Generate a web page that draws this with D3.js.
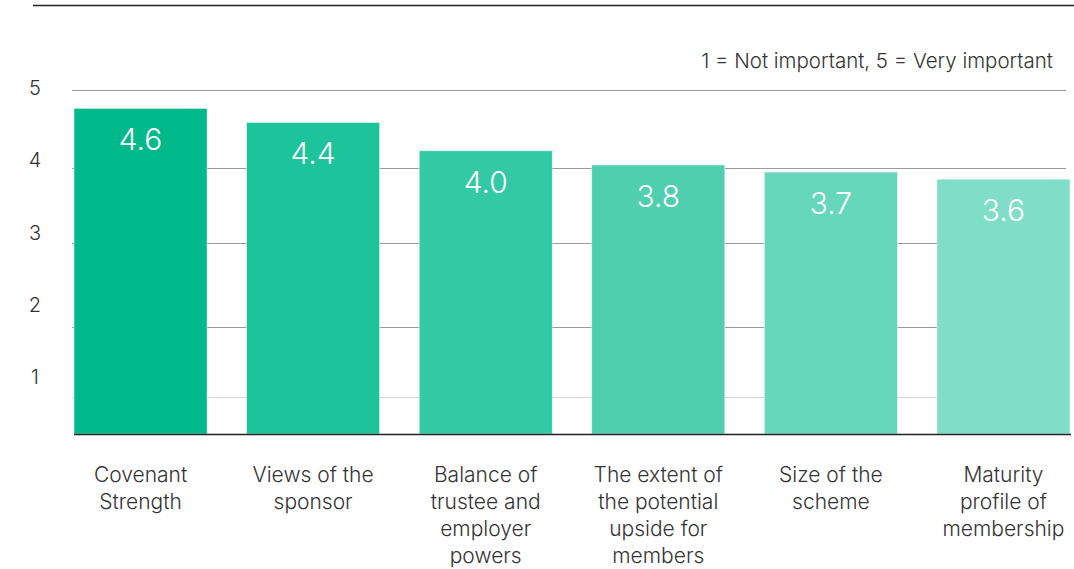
<!DOCTYPE html>
<html>
<head>
<meta charset="utf-8">
<script src="https://cdn.jsdelivr.net/npm/d3@7"></script>
<style>
  body { margin: 0; background: #fff; }
  text { font-family: Inter, "Open Sans", sans-serif; font-weight: 300; }
</style>
</head>
<body>
<script>
var categories = [
    ['Covenant', 'Strength'],
    ['Views of the', 'sponsor'],
    ['Balance of', 'trustee and', 'employer', 'powers'],
    ['The extent of', 'the potential', 'upside for', 'members'],
    ['Size of the', 'scheme'],
    ['Maturity', 'profile of', 'membership']
];
var values = [4.6, 4.4, 4.0, 3.8, 3.7, 3.6];
var colors = ['#00b98b', '#1cc39b', '#34c9a5', '#4fcfaf', '#66d7bb', '#80dec8'];
var yTicks = [1, 2, 3, 4, 5];
var note = '1 = Not important, 5 = Very important';

var width = 1074, height = 569;

var svg = d3.select('body').append('svg')
    .attr('width', width)
    .attr('height', height);

var x = d3.scaleBand()
    .domain(d3.range(values.length))
    .range([74, 1070])
    .paddingInner(0.229)
    .paddingOuter(0);

// bars
var y = d3.scaleLinear().domain([0, 5]).range([434, 80]);
// gridlines and tick labels sit off the bar scale in the original
var yGrid = d3.scaleLinear().domain([1, 2, 3, 4, 5]).range([397, 327, 243, 168, 90]);
var yLabel = d3.scaleLinear().domain([1, 5]).range([377, 88]);

// top rule
svg.append('line')
    .attr('x1', 33).attr('x2', width)
    .attr('y1', 5.5).attr('y2', 5.5)
    .attr('stroke', '#222')
    .attr('stroke-width', 1.5);

svg.append('text')
    .attr('x', 1053)
    .attr('y', 60)
    .attr('text-anchor', 'end')
    .attr('dominant-baseline', 'central')
    .attr('font-size', 20.5)
    .attr('fill', '#333')
    .text(note);

svg.selectAll('line.grid')
    .data(yTicks)
    .enter().append('line')
    .attr('class', 'grid')
    .attr('x1', 72).attr('x2', 1066)
    .attr('y1', function(d) { return Math.round(yGrid(d)) + 0.5; })
    .attr('y2', function(d) { return Math.round(yGrid(d)) + 0.5; })
    .attr('stroke', function(d) { return d === 1 ? '#d4d4d4' : '#9a9a9a'; })
    .attr('stroke-width', 1);

svg.selectAll('text.ytick')
    .data(yTicks)
    .enter().append('text')
    .attr('class', 'ytick')
    .attr('x', 35)
    .attr('y', function(d) { return yLabel(d); })
    .attr('text-anchor', 'middle')
    .attr('dominant-baseline', 'central')
    .attr('font-size', 20)
    .attr('fill', '#333')
    .text(function(d) { return d; });

svg.selectAll('rect.bar')
    .data(values)
    .enter().append('rect')
    .attr('class', 'bar')
    .attr('x', function(d, i) { return x(i); })
    .attr('y', function(d) { return y(d); })
    .attr('width', x.bandwidth())
    .attr('height', function(d) { return y(0) - y(d); })
    .attr('fill', function(d, i) { return colors[i]; })
    .attr('stroke', '#e6f7f2')
    .attr('stroke-width', 0.6);

svg.selectAll('text.value')
    .data(values)
    .enter().append('text')
    .attr('class', 'value')
    .attr('x', function(d, i) { return x(i) + x.bandwidth() / 2; })
    .attr('y', function(d) { return y(d) + 31; })
    .attr('text-anchor', 'middle')
    .attr('dominant-baseline', 'central')
    .attr('font-size', 30)
    .attr('fill', '#fff')
    .text(function(d) { return d.toFixed(1); });

// baseline
svg.append('line')
    .attr('x1', 74).attr('x2', 1071)
    .attr('y1', y(0) + 0.5).attr('y2', y(0) + 0.5)
    .attr('stroke', '#222')
    .attr('stroke-width', 1.5);

var cat = svg.selectAll('text.cat')
    .data(categories)
    .enter().append('text')
    .attr('class', 'cat')
    .attr('text-anchor', 'middle')
    .attr('font-size', 21)
    .attr('fill', '#333');

cat.selectAll('tspan')
    .data(function(d, i) { return d.map(function(s) { return {s: s, i: i}; }); })
    .enter().append('tspan')
    .attr('x', function(d) { return x(d.i) + x.bandwidth() / 2; })
    .attr('y', function(d, j) { return 474 + j * 27; })
    .attr('dominant-baseline', 'central')
    .text(function(d) { return d.s; });
</script>
</body>
</html>
